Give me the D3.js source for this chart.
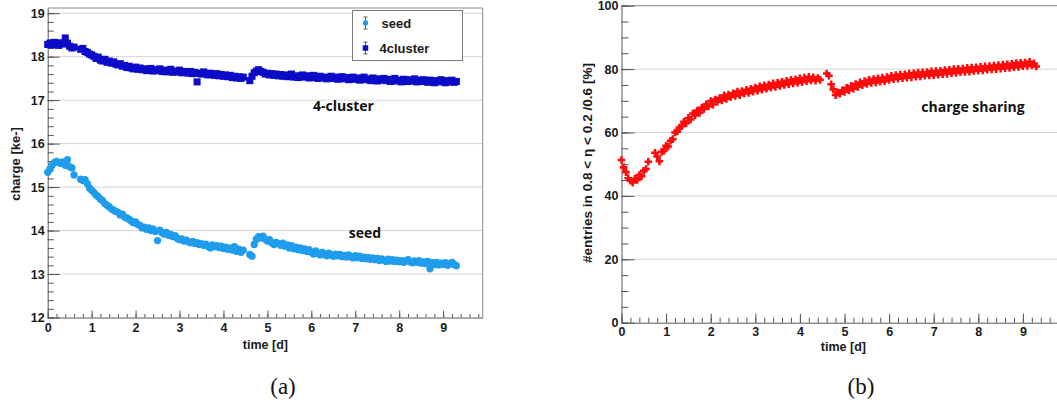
<!DOCTYPE html>
<html>
<head>
<meta charset="utf-8">
<script src="https://cdn.jsdelivr.net/npm/d3@7"></script>
<style>
  body { margin: 0; background: #fff; }
  svg { display: block; }
</style>
</head>
<body>
<div id="viz"></div>
<script>
// Measurement times [d], shared by all three series (gaps at ~0.65 d and ~4.5 d)
const times = [
  0.00,0.05,0.10,0.15,0.20,0.25,0.30,0.35,0.40,0.45,0.50,0.55,0.60,
  0.75,0.80,0.85,0.90,0.95,
  1.00,1.05,1.10,1.15,1.20,1.25,1.30,1.35,1.40,1.45,1.50,1.55,1.60,1.65,1.70,1.75,1.80,1.85,1.90,1.95,
  2.00,2.05,2.10,2.15,2.20,2.25,2.30,2.35,2.40,2.45,2.50,2.55,2.60,2.65,2.70,2.75,2.80,2.85,2.90,2.95,
  3.00,3.05,3.10,3.15,3.20,3.25,3.30,3.35,3.40,3.45,3.50,3.55,3.60,3.65,3.70,3.75,3.80,3.85,3.90,3.95,
  4.00,4.05,4.10,4.15,4.20,4.25,4.30,4.35,4.40,4.45,
  4.60,4.65,4.70,4.75,4.80,4.85,4.90,4.95,
  5.00,5.05,5.10,5.15,5.20,5.25,5.30,5.35,5.40,5.45,5.50,5.55,5.60,5.65,5.70,5.75,5.80,5.85,5.90,5.95,
  6.00,6.05,6.10,6.15,6.20,6.25,6.30,6.35,6.40,6.45,6.50,6.55,6.60,6.65,6.70,6.75,6.80,6.85,6.90,6.95,
  7.00,7.05,7.10,7.15,7.20,7.25,7.30,7.35,7.40,7.45,7.50,7.55,7.60,7.65,7.70,7.75,7.80,7.85,7.90,7.95,
  8.00,8.05,8.10,8.15,8.20,8.25,8.30,8.35,8.40,8.45,8.50,8.55,8.60,8.65,8.70,8.75,8.80,8.85,8.90,8.95,
  9.00,9.05,9.10,9.15,9.20,9.25,9.30
];

// (a) 4-cluster charge [ke-]
const clusterCharge = [
  18.28,18.31,18.27,18.33,18.30,18.26,18.32,18.29,18.43,18.31,18.24,18.20,18.22,
  18.17,18.19,18.12,18.10,18.06,
  18.04,18.01,17.96,17.99,17.92,17.90,17.94,17.87,17.90,17.85,17.88,17.83,17.81,17.84,17.78,17.80,17.75,17.78,17.74,17.72,
  17.76,17.71,17.74,17.70,17.72,17.68,17.71,17.73,17.67,17.70,17.68,17.72,17.66,17.69,17.65,17.68,17.71,17.64,17.67,17.65,
  17.69,17.63,17.66,17.64,17.62,17.66,17.61,17.64,17.42,17.62,17.60,17.65,17.61,17.58,17.62,17.59,17.57,17.61,17.56,17.59,
  17.55,17.58,17.54,17.57,17.52,17.55,17.51,17.54,17.50,17.53,
  17.45,17.55,17.63,17.67,17.70,17.66,17.64,17.60,
  17.62,17.58,17.61,17.57,17.60,17.56,17.59,17.55,17.58,17.54,17.57,17.60,17.53,17.56,17.52,17.55,17.58,17.53,17.56,17.51,
  17.54,17.57,17.52,17.50,17.55,17.51,17.53,17.49,17.52,17.55,17.50,17.53,17.48,17.51,17.54,17.49,17.52,17.47,17.50,17.53,
  17.48,17.51,17.46,17.50,17.53,17.47,17.49,17.45,17.51,17.48,17.44,17.49,17.46,17.50,17.45,17.48,17.43,17.47,17.50,17.44,
  17.46,17.42,17.48,17.45,17.43,17.47,17.44,17.49,17.42,17.46,17.43,17.47,17.44,17.41,17.46,17.43,17.40,17.45,17.42,17.47,
  17.43,17.40,17.45,17.42,17.46,17.41,17.43
];

// (a) seed charge [ke-]
const seedCharge = [
  15.34,15.41,15.50,15.56,15.59,15.57,15.54,15.58,15.50,15.63,15.47,15.44,15.28,
  15.18,15.15,15.17,15.08,14.98,
  14.93,14.88,14.82,14.78,14.72,14.69,14.62,14.58,14.55,14.50,14.47,14.44,14.42,14.36,14.38,14.31,14.29,14.26,14.22,14.18,
  14.20,14.14,14.12,14.06,14.08,14.03,14.06,14.00,14.04,13.98,13.77,14.01,13.95,13.92,13.96,13.89,13.91,13.86,13.88,13.82,
  13.79,13.81,13.76,13.78,13.74,13.72,13.75,13.70,13.72,13.68,13.70,13.66,13.69,13.64,13.60,13.67,13.63,13.65,13.61,13.64,
  13.59,13.62,13.57,13.60,13.55,13.63,13.52,13.57,13.50,13.55,
  13.45,13.41,13.68,13.80,13.86,13.83,13.87,13.80,
  13.76,13.79,13.72,13.68,13.73,13.70,13.66,13.71,13.64,13.67,13.60,13.65,13.58,13.62,13.56,13.60,13.54,13.58,13.52,13.56,
  13.50,13.46,13.53,13.48,13.44,13.50,13.46,13.42,13.48,13.44,13.41,13.46,13.42,13.45,13.40,13.43,13.39,13.44,13.40,13.37,
  13.42,13.38,13.41,13.36,13.39,13.35,13.38,13.34,13.37,13.33,13.36,13.31,13.35,13.32,13.29,13.34,13.30,13.33,13.29,13.32,
  13.28,13.31,13.27,13.30,13.33,13.28,13.26,13.30,13.27,13.31,13.25,13.28,13.24,13.29,13.12,13.26,13.22,13.27,13.21,13.25,
  13.22,13.26,13.20,13.24,13.27,13.22,13.19
];

// (b) fraction of entries in 0.8 < eta < 0.2 / 0.6 [%]
const sharingRate = [
  51.3,49.0,47.5,45.6,44.8,44.2,45.4,45.0,46.6,46.2,47.9,48.5,50.8,
  53.6,52.4,50.9,53.9,54.2,
  55.8,55.6,57.4,57.9,60.0,60.3,61.6,62.0,63.4,62.9,64.6,64.1,66.0,65.4,66.9,66.2,67.8,67.4,68.9,68.2,
  69.9,68.8,70.4,69.7,70.9,70.1,71.7,70.6,72.0,71.2,72.4,71.5,72.9,71.8,73.1,72.3,73.5,72.5,73.8,72.9,
  74.2,73.2,74.6,73.5,74.9,73.8,75.1,74.1,75.5,74.4,75.7,74.7,76.0,75.0,76.3,75.2,76.6,75.5,76.8,75.7,
  77.1,75.9,77.3,76.2,77.6,76.4,77.4,76.3,77.2,76.6,
  78.6,77.9,75.2,73.6,71.8,72.6,72.2,73.3,
  72.8,74.1,73.3,74.7,73.8,75.3,74.4,75.8,74.9,76.2,75.3,76.6,75.6,76.9,75.8,77.1,76.0,77.3,76.2,77.5,
  76.6,77.9,76.8,78.1,77.0,78.3,77.1,78.4,77.3,78.6,77.4,78.7,77.6,78.9,77.7,79.0,77.9,79.1,78.0,79.3,
  78.1,79.4,78.2,79.5,78.4,79.7,78.5,79.8,78.7,80.0,78.8,80.1,79.0,80.2,79.1,80.4,79.2,80.5,79.4,80.6,
  79.5,80.7,79.6,80.9,79.8,81.0,79.9,81.1,80.0,81.3,80.1,81.4,80.3,81.5,80.4,81.7,80.6,81.9,80.7,82.0,
  80.9,82.1,81.0,82.3,81.2,81.8,80.8
];

// Tick labels
const timeTicks = [0, 1, 2, 3, 4, 5, 6, 7, 8, 9];
const chargeTicks = [12, 13, 14, 15, 16, 17, 18, 19];
const rateTicks = [0, 20, 40, 60, 80, 100];

const axisFont = "'Liberation Sans', Arial, sans-serif";
const noteFont = "'Open Sans', 'Noto Sans', sans-serif";

const svg = d3.select("#viz")
  .append("svg")
  .attr("width", 1057)
  .attr("height", 405);

// Draw one ROOT-style frame: grid, axes with inward ticks, top/right border
function drawFrame(x, y, opt) {
  const g = svg.append("g");
  const [x0, x1] = x.range();
  const [y0, y1] = y.range();

  // dotted horizontal grid
  g.append("g")
    .selectAll("line")
    .data(opt.yTicks.filter(d => d !== y.domain()[0]))
    .join("line")
    .attr("x1", x0).attr("x2", x1)
    .attr("y1", d => y(d)).attr("y2", d => y(d))
    .attr("stroke", "#a8a8a8")
    .attr("stroke-dasharray", "1,1");

  // top and right border
  g.append("path")
    .attr("d", `M${x0},${y1}H${x1}V${y0}`)
    .attr("fill", "none")
    .attr("stroke", "#8c8c8c");

  // X-axis minor then major
  g.append("g")
    .attr("transform", `translate(0,${y0})`)
    .call(d3.axisBottom(x).tickValues(opt.xMinor).tickSize(-opt.xMinorLen).tickFormat(""))
    .call(a => a.select(".domain").remove())
    .attr("color", "#555");

  g.append("g")
    .attr("transform", `translate(0,${y0})`)
    .call(d3.axisBottom(x)
      .tickValues(timeTicks)
      .tickSizeInner(-opt.xMajorLen)
      .tickSizeOuter(0)
      .tickPadding(opt.xPad)
      .tickFormat(d3.format("d")))
    .attr("color", "#555")
    .attr("font-family", axisFont)
    .attr("font-size", 12.5)
    .attr("font-weight", "bold")
    .call(a => a.selectAll("text").attr("fill", "#1a1a1a"));

  // Y-axis minor then major
  g.append("g")
    .attr("transform", `translate(${x0},0)`)
    .call(d3.axisLeft(y).tickValues(opt.yMinor).tickSize(-opt.yMinorLen).tickFormat(""))
    .call(a => a.select(".domain").remove())
    .attr("color", "#555");

  g.append("g")
    .attr("transform", `translate(${x0},0)`)
    .call(d3.axisLeft(y)
      .tickValues(opt.yTicks)
      .tickSizeInner(-opt.yMajorLen)
      .tickSizeOuter(0)
      .tickPadding(3)
      .tickFormat(d3.format("d")))
    .attr("color", "#555")
    .attr("font-family", axisFont)
    .attr("font-size", 12.5)
    .attr("font-weight", "bold")
    .call(a => a.selectAll("text").attr("fill", "#1a1a1a"));

  // axis title
  svg.append("text")
    .attr("x", opt.xTitle[0])
    .attr("y", opt.xTitle[1])
    .attr("text-anchor", "end")
    .attr("font-family", axisFont)
    .attr("font-size", 12.5)
    .attr("font-weight", "bold")
    .attr("fill", "#1a1a1a")
    .text("time [d]");

  return g;
}

function scatter(x, y, values, symbol, size, color) {
  const pts = times.map((t, i) => [t, values[i]]);
  svg.append("g")
    .selectAll("path")
    .data(pts)
    .join("path")
    .attr("transform", d => `translate(${x(d[0])},${y(d[1])})`)
    .attr("d", d3.symbol().type(symbol).size(size))
    .attr("fill", color);
}

// ---------- (a) charge vs time ----------
const xA = d3.scaleLinear().domain([0, 9.9]).range([47.7, 482.7]);
const yA = d3.scaleLinear().domain([12, 19.12]).range([317.5, 8]);

drawFrame(xA, yA, {
  yTicks: chargeTicks,
  yMinor: d3.range(12, 19.01, 0.2),
  xMinor: d3.range(0, 9.81, 0.2),
  xMajorLen: 7, xMinorLen: 3.5,
  yMajorLen: 12, yMinorLen: 6,
  xPad: 6,
  xTitle: [288, 349]
});

svg.append("text")
  .attr("transform", "translate(20,164) rotate(-90)")
  .attr("text-anchor", "middle")
  .attr("font-family", axisFont)
  .attr("font-size", 13)
  .attr("font-weight", "bold")
  .attr("fill", "#1a1a1a")
  .text("charge [ke-]");

const blue = "#0c0cc8";
const lightBlue = "#1f9cec";
scatter(xA, yA, clusterCharge, d3.symbolSquare, 50, blue);
scatter(xA, yA, seedCharge, d3.symbolCircle, 42, lightBlue);

// legend
const legend = svg.append("g");
legend.append("rect")
  .attr("x", 352.5).attr("y", 10.5)
  .attr("width", 110).attr("height", 50)
  .attr("fill", "#fff")
  .attr("stroke", "#7a7a7a");

[["seed", lightBlue, 23], ["4cluster", blue, 48]].forEach(([name, color, ly]) => {
  legend.append("path")
    .attr("d", `M365.5,${ly - 6}V${ly + 6}M363.5,${ly - 6}H367.5M363.5,${ly + 6}H367.5`)
    .attr("stroke", "#333").attr("stroke-width", 0.8);
  legend.append("path")
    .attr("transform", `translate(365.5,${ly})`)
    .attr("d", d3.symbol().type(name === "seed" ? d3.symbolCircle : d3.symbolSquare).size(name === "seed" ? 22 : 30))
    .attr("fill", color);
  legend.append("text")
    .attr("x", name === "seed" ? 381.5 : 379.5)
    .attr("y", ly + 4.5)
    .attr("font-family", axisFont)
    .attr("font-size", 13)
    .attr("font-weight", "bold")
    .attr("fill", "#1a1a1a")
    .text(name);
});

// curve annotations
svg.append("text")
  .attr("x", 343.5).attr("y", 110.5)
  .attr("text-anchor", "middle")
  .attr("font-family", noteFont)
  .attr("font-size", 14)
  .attr("font-weight", 700)
  .attr("fill", "#111")
  .text("4-cluster");

svg.append("text")
  .attr("x", 365).attr("y", 238)
  .attr("text-anchor", "middle")
  .attr("font-family", noteFont)
  .attr("font-size", 14)
  .attr("font-weight", 700)
  .attr("fill", "#111")
  .text("seed");

// ---------- (b) charge sharing vs time ----------
const xB = d3.scaleLinear().domain([0, 9.78]).range([621.5, 1057.7]);
const yB = d3.scaleLinear().domain([0, 100]).range([322.7, 5.7]);

drawFrame(xB, yB, {
  yTicks: rateTicks,
  yMinor: d3.range(0, 100.1, 5),
  xMinor: d3.range(0, 9.81, 0.2),
  xMajorLen: 9, xMinorLen: 5,
  yMajorLen: 13, yMinorLen: 7,
  xPad: 4,
  xTitle: [866, 351]
});

svg.append("text")
  .attr("transform", "translate(592,163) rotate(-90)")
  .attr("text-anchor", "middle")
  .attr("font-family", axisFont)
  .attr("font-size", 13.5)
  .attr("font-weight", "bold")
  .attr("fill", "#1a1a1a")
  .attr("textLength", 200)
  .attr("lengthAdjust", "spacing")
  .text("#entries in 0.8 < η < 0.2 /0.6 [%]");

scatter(xB, yB, sharingRate, d3.symbolCross, 32, "#ff0a0a");

svg.append("text")
  .attr("x", 973).attr("y", 112)
  .attr("text-anchor", "middle")
  .attr("font-family", noteFont)
  .attr("font-size", 14)
  .attr("font-weight", 700)
  .attr("fill", "#111")
  .text("charge sharing");

// panel captions
[["(a)", 283], ["(b)", 861]].forEach(([label, cx]) => {
  svg.append("text")
    .attr("x", cx).attr("y", 394)
    .attr("text-anchor", "middle")
    .attr("font-family", "'Liberation Serif', 'Times New Roman', serif")
    .attr("font-size", 23)
    .attr("fill", "#111")
    .text(label);
});
</script>
</body>
</html>
